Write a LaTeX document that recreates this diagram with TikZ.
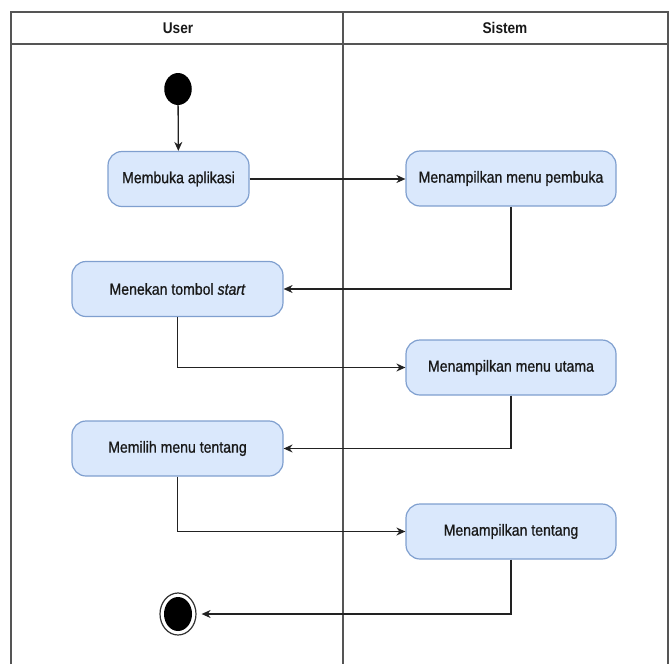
\documentclass[tikz,border=0pt]{standalone}
\usepackage{fontspec}
\setmainfont{Liberation Sans}[FakeStretch=0.88]
\newfontfamily\nodefont{Liberation Sans}[FakeStretch=0.88,FakeBold=0.9]
\usetikzlibrary{arrows.meta,shapes.geometric}
\definecolor{boxfill}{HTML}{DAE8FC}
\definecolor{boxline}{HTML}{7F9FCF}
\definecolor{framecol}{HTML}{555555}
\definecolor{arrcol}{HTML}{222222}
\begin{document}
\begin{tikzpicture}[x=1pt,y=-1pt,
  act/.style={draw=boxline, fill=boxfill, rounded corners=14pt, line width=1.2pt,
    minimum width=#1, minimum height=55pt, inner sep=0pt, text=black!90,
    font=\nodefont\fontsize{16}{19}\selectfont},
  frame/.style={draw=framecol, line width=1.4pt},
  arr/.style={draw=arrcol, line width=1.3pt, -{Stealth[length=9pt,width=8pt]}},
  hdr/.style={font=\fontsize{15.5}{18}\selectfont\bfseries, text=black!90}]
\useasboundingbox (0,0) rectangle (671,664);
% swimlane frame
\draw[frame] (11,664) -- (11,12) -- (668,12) -- (668,664);
\draw[frame] (11,44) -- (668,44);
\draw[frame] (343,12) -- (343,664);
\node[hdr] (hu) at (178,28) {User};
\node[hdr] (hs) at (505,28) {Sistem};
% nodes
\node[ellipse, fill=black, minimum width=27.5pt, minimum height=32pt, inner sep=0pt] (start) at (178,89) {};
\node[act=141pt] (a1) at (178.5,179) {Membuka aplikasi};
\node[act=210pt] (b1) at (511,178.5) {Menampilkan menu pembuka};
\node[act=211pt] (a2) at (177.5,289) {Menekan tombol \textit{start}};
\node[act=210pt] (b2) at (511,367.5) {Menampilkan menu utama};
\node[act=211pt] (a3) at (177.5,448.5) {Memilih menu tentang};
\node[act=210pt] (b3) at (511,531.5) {Menampilkan tentang};
\node[ellipse, draw=black!80, line width=1.2pt, fill=white, minimum width=36pt, minimum height=42pt, inner sep=0pt] (endo) at (178,614) {};
\node[ellipse, fill=black, minimum width=28pt, minimum height=34pt, inner sep=0pt] (endi) at (178,614) {};
% connectors
\draw[arr] (start) -- (a1);
\draw[arr] (a1.east) -- (a1.east -| b1.west);
\draw[arr] (b1.south) |- (a2.east);
\draw[arr] (a2.south) |- (b2.west);
\draw[arr] (b2.south) |- (a3.east);
\draw[arr] (a3.south) |- (b3.west);
\draw[arr] (b3.south) |- ([xshift=5pt]endo.east);
\end{tikzpicture}
\end{document}
